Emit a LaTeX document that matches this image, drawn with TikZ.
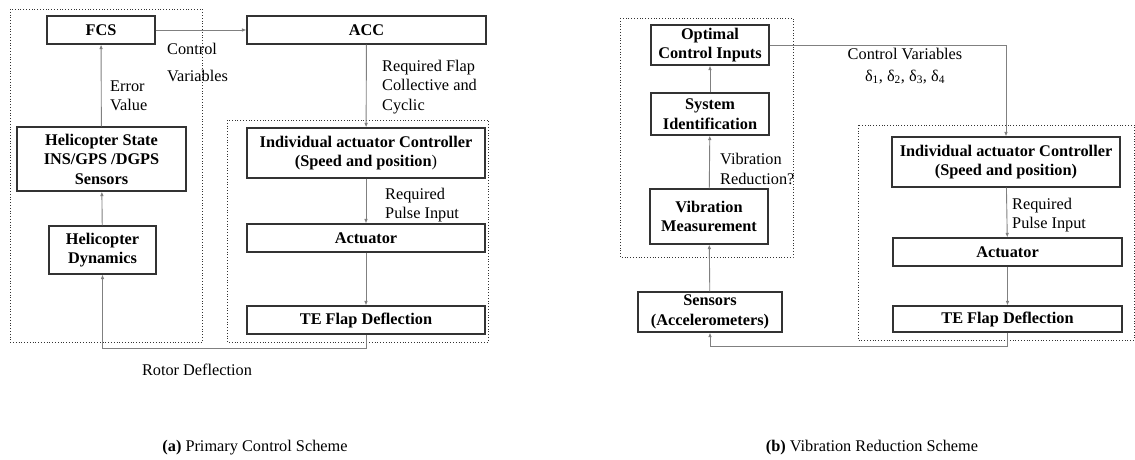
\documentclass[tikz,border=0pt]{standalone}
\usepackage{fontspec}
\setmainfont{Liberation Serif}
\usetikzlibrary{arrows.meta}
\definecolor{boxline}{HTML}{333333}
\definecolor{wire}{HTML}{808080}
\newcommand{\dfont}{\fontsize{16.3}{19.5}\selectfont}

\begin{document}
\begin{tikzpicture}[>=Latex,x=1pt,y=-1pt,
  blk/.style={draw=boxline,line width=1.1pt,inner sep=0pt,align=center,font=\dfont\bfseries},
  lbl/.style={inner sep=0pt,font=\dfont,align=left},
  conn/.style={draw=wire,line width=0.9pt,-{Latex[length=4.5pt,width=3.6pt]}},
  grp/.style={draw=boxline,line width=0.8pt,dotted}]
\useasboundingbox (0,0) rectangle (1135,460);
% (a) primary control
\draw[grp] (10,9) rectangle (202,342);
\draw[grp] (227,120) rectangle (488,342);
\node[blk,minimum width=108pt,minimum height=28pt] (fcs) at (101,30) {FCS};
\node[blk,minimum width=239pt,minimum height=28pt] (acc) at (366.5,30) {ACC};
\node[blk,minimum width=169pt,minimum height=64pt] (hstate) at (101.5,159) {Helicopter State\\INS/GPS /DGPS\\Sensors};
\node[blk,minimum width=107pt,minimum height=48pt] (hdyn) at (102.5,250) {Helicopter\\Dynamics};
\node[blk,minimum width=238pt,minimum height=50pt] (iaca) at (366,153) {Individual actuator Controller\\(Speed and position\textmd{)}};
\node[blk,minimum width=238pt,minimum height=28pt] (acta) at (366,238) {Actuator};
\node[blk,minimum width=238pt,minimum height=28pt] (tefa) at (366,320) {TE Flap Deflection};
\node[lbl,anchor=west] (ctrlvar) at (167,62) {Control\\[7.5pt]Variables};
\node[lbl,anchor=west] (errval) at (110,96) {Error\\Value};
\node[lbl,anchor=west] (reqflap) at (382,87) {Required Flap\\Collective and\\Cyclic};
\node[lbl,anchor=west] (reqpulsea) at (385,205) {Required\\Pulse Input};
\node[lbl] (rotdefl) at (197,370) {Rotor Deflection};
% (b) vibration reduction
\draw[grp] (620,18) rectangle (793,257);
\draw[grp] (858,125) rectangle (1134,340);
\node[blk,minimum width=118pt,minimum height=40pt] (oci) at (710,45) {Optimal\\Control Inputs};
\node[blk,minimum width=118pt,minimum height=42pt] (sysid) at (710,114) {System\\Identification};
\node[blk,minimum width=118pt,minimum height=55pt] (vibm) at (709,216.5) {Vibration\\Measurement};
\node[blk,minimum width=144pt,minimum height=40pt] (sens) at (710,312) {Sensors\\(Accelerometers)};
\node[blk,minimum width=228pt,minimum height=50pt] (iacb) at (1006,162) {Individual actuator Controller\\(Speed and position)};
\node[blk,minimum width=229pt,minimum height=28pt] (actb) at (1007.5,252) {Actuator};
\node[blk,minimum width=229pt,minimum height=26pt] (tefb) at (1007.5,319) {TE Flap Deflection};
\node[lbl,anchor=west] (vibred) at (720,169) {Vibration\\Reduction?};
\node[lbl,align=center] (ctrlvarb) at (905,66) {Control Variables\\[2pt]δ\textsubscript{1}, δ\textsubscript{2}, δ\textsubscript{3}, δ\textsubscript{4}};
\node[lbl,anchor=west] (reqpulseb) at (1012,215) {Required\\Pulse Input};
% connectors
\draw[conn] (fcs) -- (acc);
\foreach \a/\b in {hstate/fcs,hdyn/hstate,acc/iaca,iaca/acta,acta/tefa,sens/vibm,vibm/sysid,sysid/oci,iacb/actb,actb/tefb}{
  \draw[conn] (\a) -- (\b);
}
\draw[conn] (tefa.south) -- ++(0,14) -| (hdyn.south);
\draw[conn] (tefb.south) -- ++(0,14) -| (sens.south);
\draw[conn] (oci.east) -| (iacb.north);
% captions
\node[lbl] (capa) at (255,448) {\textbf{(a)} Primary Control Scheme};
\node[lbl] (capb) at (872,448) {\textbf{(b)} Vibration Reduction Scheme};
\end{tikzpicture}
\end{document}
